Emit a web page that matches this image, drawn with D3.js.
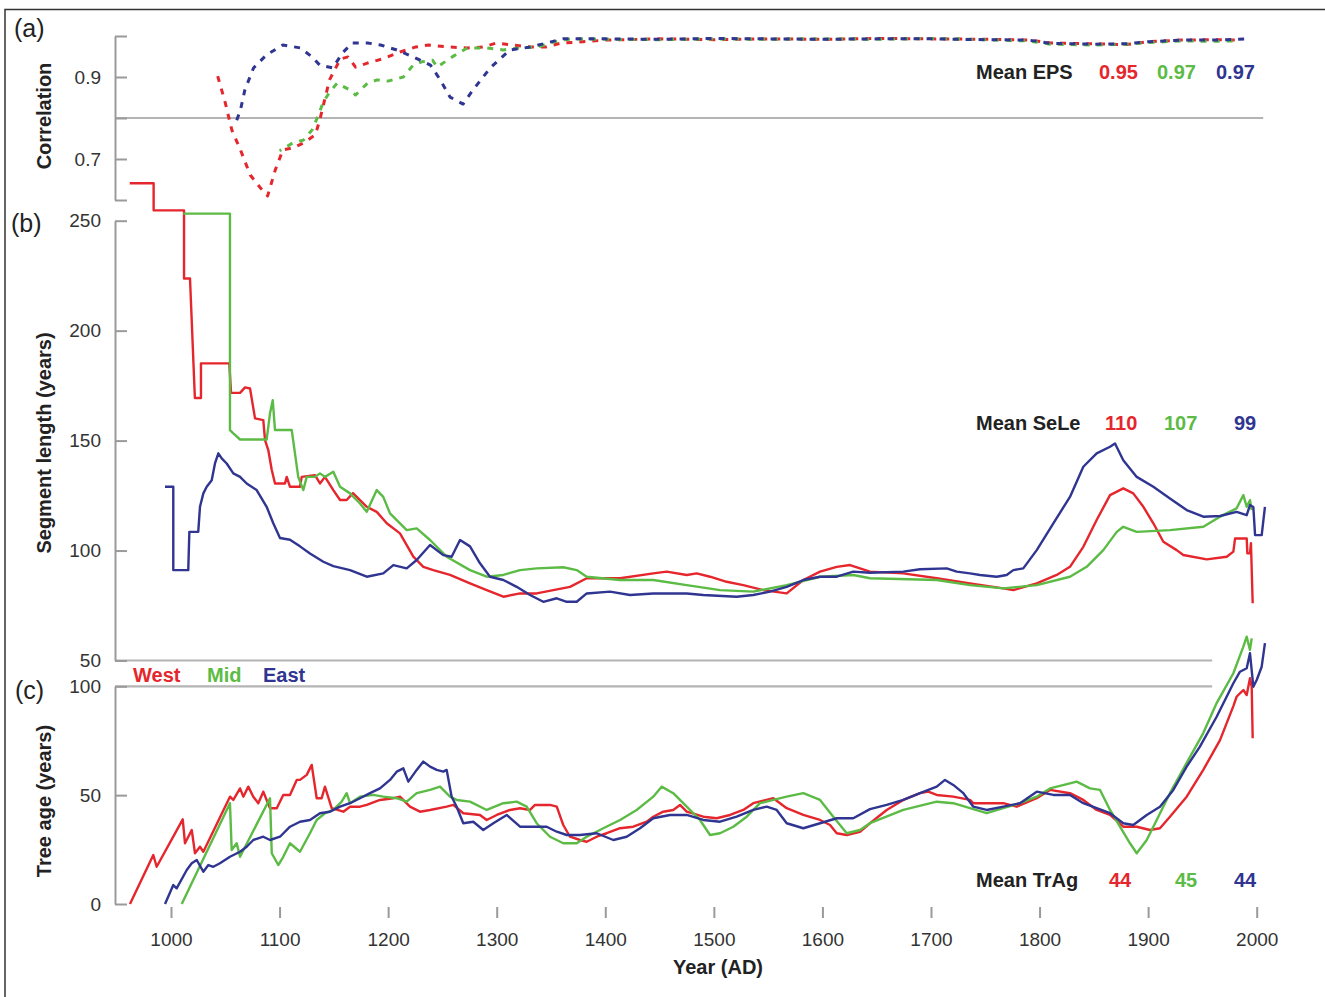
<!DOCTYPE html>
<html>
<head>
<meta charset="utf-8">
<script src="https://cdn.jsdelivr.net/npm/d3@7"></script>
<style>
  body { margin: 0; background: #fff; }
  svg { display: block; font-family: "Liberation Sans", Arial, Helvetica, sans-serif; }
</style>
</head>
<body>
<svg id="chart" width="1325" height="997"></svg>
<script>
// ---- data -------------------------------------------------------------
const regions = ["West", "Mid", "East"];
const yearTicks = d3.range(1000, 2001, 100);
const epsTicks = [0.6, 0.7, 0.8, 0.9, 1.0];
const epsLabelled = [0.7, 0.9];
const segTicks = [50, 100, 150, 200, 250];
const ageTicks = [0, 50, 100];
const epsThreshold = 0.8;
const meanEPS = ["0.95", "0.97", "0.97"];
const meanSeLe = ["110", "107", "99"];
const meanTrAg = ["44", "45", "44"];

// (a) running EPS, [year, EPS]
const epsWest = [[1043,0.902],[1050,0.837],[1056,0.771],[1064,0.722],[1073,0.661],[1084,0.624],[1089,0.61],[1096,0.673],[1103,0.722],[1112,0.727],[1122,0.739],[1133,0.759],[1137,0.795],[1146,0.893],[1156,0.944],[1163,0.949],[1170,0.924],[1181,0.934],[1197,0.946],[1211,0.961],[1225,0.973],[1237,0.978],[1257,0.973],[1273,0.971],[1287,0.973],[1300,0.983],[1315,0.978],[1331,0.973],[1345,0.973],[1360,0.983],[1375,0.985],[1400,0.99],[1450,0.993],[1500,0.991],[1550,0.993],[1600,0.992],[1650,0.994],[1700,0.993],[1750,0.992],[1790,0.99],[1810,0.983],[1850,0.981],[1880,0.979],[1900,0.986],[1930,0.99],[1960,0.991],[1983,0.99]];
const epsMid = [[1100,0.72],[1112,0.739],[1122,0.746],[1130,0.771],[1135,0.802],[1140,0.837],[1146,0.863],[1153,0.885],[1165,0.868],[1170,0.856],[1181,0.885],[1190,0.893],[1200,0.89],[1214,0.9],[1223,0.929],[1231,0.937],[1241,0.941],[1245,0.924],[1259,0.949],[1273,0.971],[1291,0.971],[1306,0.966],[1322,0.971],[1337,0.973],[1352,0.985],[1368,0.993],[1400,0.992],[1450,0.991],[1500,0.993],[1550,0.992],[1600,0.993],[1650,0.992],[1700,0.994],[1750,0.991],[1790,0.988],[1810,0.98],[1850,0.978],[1880,0.98],[1900,0.984],[1930,0.988],[1960,0.987],[1982,0.988]];
const epsEast = [[1059,0.783],[1064,0.82],[1068,0.868],[1076,0.922],[1088,0.954],[1103,0.978],[1119,0.971],[1130,0.949],[1137,0.929],[1149,0.922],[1158,0.959],[1167,0.983],[1181,0.983],[1193,0.978],[1208,0.966],[1223,0.949],[1239,0.929],[1248,0.893],[1257,0.851],[1269,0.834],[1278,0.868],[1294,0.922],[1312,0.966],[1331,0.973],[1361,0.993],[1400,0.993],[1450,0.992],[1500,0.994],[1550,0.993],[1600,0.992],[1650,0.993],[1700,0.993],[1750,0.991],[1790,0.99],[1810,0.982],[1850,0.98],[1880,0.981],[1900,0.986],[1930,0.99],[1960,0.99],[1989,0.993]];

// (b) mean segment length, [year, years]
const segWest = [[962,267],[984,267],[984,254.7],[1012,254.7],[1012,223.7],[1017.5,223.7],[1022,169.4],[1027.6,169.4],[1027.6,185.1],[1053.7,185.1],[1055.3,171.7],[1063.6,171.7],[1068.2,174.2],[1072.8,173.7],[1077.4,160.1],[1085,159.3],[1086.6,150.2],[1089.6,145.7],[1092.8,136.6],[1095.8,130.5],[1105,130.5],[1106.6,133.5],[1109.6,129],[1118.8,129],[1120.4,133.5],[1132.6,134.3],[1137.2,130.5],[1141.8,133.5],[1149.5,127.5],[1155.7,123],[1161.8,123],[1167.6,126.1],[1180.3,119.9],[1189.5,117.6],[1198.7,112.4],[1210.9,107.8],[1223.2,97.2],[1232.4,92.6],[1241.6,91.1],[1257,88.9],[1275.4,85.1],[1290.8,82],[1306.1,79],[1321.5,80.5],[1336.8,80.5],[1352.1,82],[1367.5,83.5],[1382.9,87.4],[1413.6,87.4],[1444.2,89.6],[1456.6,90.4],[1475,88.9],[1484.2,89.6],[1496.5,88.1],[1511.8,85.8],[1527.1,84.3],[1545.5,82],[1567.1,80.5],[1582.4,86.6],[1597.8,90.4],[1613.2,92.6],[1625.4,93.4],[1643.8,90.4],[1674.5,89.6],[1705.3,87.4],[1735.9,85.1],[1766.6,82.8],[1775.8,82],[1797.4,85.1],[1815.8,88.9],[1828,92.6],[1840.3,101.7],[1852.6,113.9],[1864.9,125.2],[1877.1,128.3],[1886.3,126],[1895.6,119.9],[1904.8,112.4],[1914,104],[1926.3,100.2],[1932.4,98],[1954,96],[1972.4,97.2],[1978.5,99.5],[1980.1,105.5],[1990.8,105.5],[1991.4,98.7],[1993.8,98.7],[1994.7,103.3],[1996.3,76]];
const segMid = [[1011.3,253.2],[1054.3,253.2],[1054.3,154.8],[1057.4,153.3],[1063.6,150.5],[1088.1,150.5],[1091.2,162.4],[1093.7,168.4],[1095.8,154.8],[1111.2,154.8],[1117.2,133.5],[1121.9,127.5],[1125,133.5],[1132.6,133.5],[1137.2,135.1],[1141.8,133.5],[1149.5,135.8],[1155.7,129],[1164.9,126],[1174.1,121.4],[1180.3,117.6],[1189.5,127.5],[1195.5,124.4],[1201.7,116.9],[1210.9,112.4],[1217.1,109.3],[1226.3,110.1],[1238.6,104.8],[1253.9,97.2],[1275.4,91.1],[1290.8,88.1],[1306.1,88.9],[1321.5,91.1],[1336.8,91.9],[1361.3,92.4],[1373.7,91.1],[1382.9,88.1],[1413.6,86.6],[1444.2,86.6],[1475,84.3],[1505.7,82],[1536.3,81.3],[1567.1,84.3],[1597.8,88.1],[1628.4,88.9],[1643.8,87.4],[1705.3,86.6],[1735.9,84.3],[1766.6,82.8],[1797.4,84.3],[1828,88.1],[1843.4,92.6],[1858.7,100.2],[1871.1,108.5],[1877.1,110.8],[1889.5,108.5],[1920.1,109.3],[1950.8,110.8],[1966.2,115.4],[1981.5,119.2],[1987.7,125.2],[1990.8,119.9],[1993.8,122.9],[1995.4,118.4]];
const segEast = [[994.5,129],[1002.1,129],[1002.1,91.1],[1015.9,91.1],[1016.9,108.5],[1025.1,108.5],[1026.7,119.9],[1029.8,126],[1032.9,129],[1037.5,132],[1040.5,139.6],[1043.6,144.2],[1046.7,141.9],[1051.3,139.6],[1057.4,135.1],[1063.6,133.5],[1069.7,130.5],[1078.9,127.5],[1088.1,119.9],[1094.2,112.4],[1100.4,105.7],[1109.6,104.9],[1118.8,101.9],[1128,98.7],[1140.3,94.9],[1149.5,92.9],[1164.9,91.1],[1180.3,88.1],[1195.5,89.6],[1204.8,93.4],[1217.1,91.9],[1226.3,95.7],[1238.6,102.5],[1250.8,97.9],[1258.5,97.2],[1266.2,104.8],[1275.4,101.9],[1284.6,94.2],[1293.8,88.1],[1306.1,86.6],[1318.4,83.5],[1330.7,79.8],[1342.9,76.7],[1355.3,78.3],[1364.5,76.7],[1373.7,76.7],[1382.9,80.5],[1404.3,81.3],[1422.8,79.8],[1444.2,80.5],[1475,80.5],[1490.3,79.8],[1521,79],[1536.3,79.8],[1551.7,81.3],[1567.1,83.5],[1582.4,86.6],[1597.8,88.1],[1613.2,88.1],[1628.4,90.4],[1643.8,89.9],[1674.5,90.4],[1689.9,91.5],[1714.5,91.9],[1723.7,90.4],[1735.9,89.6],[1745.2,88.9],[1760.5,88.1],[1769.7,88.9],[1775.8,91.1],[1785,91.9],[1797.4,100.2],[1812.7,112.4],[1828,124.4],[1840.3,138.1],[1852.6,144.2],[1864.9,147.2],[1869.5,148.7],[1877.1,141.1],[1889.5,133.5],[1904.8,129],[1920.1,123.7],[1935.5,118.4],[1950.8,115.4],[1966.2,115.7],[1981.5,117.6],[1990.8,116.1],[1993.8,120.7],[1996.9,119.8],[1998.5,107],[2004.6,107],[2007.6,119.9]];

// (c) mean tree age, [year, years]
const ageWest = [[962.2,0],[983.7,22.5],[986.8,17.1],[1010.8,38.9],[1012.9,27.9],[1019.1,34],[1022.1,23.3],[1026.7,26.3],[1029.8,24],[1054.3,49.3],[1057.4,47.8],[1063.6,53.1],[1066.6,49.3],[1071.2,53.9],[1075.8,49.3],[1080.4,46.3],[1085,51.6],[1088.1,47.8],[1091.2,44],[1097.4,44],[1103.4,50.1],[1109.6,50.1],[1115.8,57],[1118.8,57],[1125,59.3],[1129.6,63.9],[1134.2,48.6],[1138.8,48.6],[1141.8,53.9],[1148,44],[1158.7,42.4],[1164.9,44.7],[1174.1,44.7],[1180.3,45.5],[1192.5,47.8],[1204.8,48.6],[1210.9,49.3],[1220.1,44.7],[1229.3,42.4],[1238.6,43.2],[1253.9,44.7],[1260,45.5],[1269.2,41.7],[1284.6,40.9],[1290.8,38.6],[1300,40.9],[1312.2,43.2],[1321.5,44],[1330.7,43.2],[1335.3,45.5],[1349.1,45.5],[1355.3,44.7],[1361.3,36.3],[1367.5,30.9],[1376.7,29.4],[1382.9,28.6],[1392.1,30.9],[1401.3,32.5],[1413.6,34.8],[1425.8,35.5],[1438.2,37.8],[1444.2,40.1],[1453.4,42.4],[1462.6,43.2],[1468.8,45.5],[1475,42.4],[1490.3,40.1],[1502.6,39.4],[1514.9,40.9],[1527.1,43.2],[1536.3,46.3],[1554.8,48.6],[1567.1,44],[1582.4,40.9],[1597.8,38.6],[1607,36.3],[1613.2,32.5],[1622.4,31.7],[1634.6,33.2],[1643.8,37.1],[1659.2,43.2],[1674.5,47.8],[1689.9,50.9],[1697.5,51.6],[1705.3,50.1],[1720.5,49.3],[1735.9,47.8],[1739,46.3],[1766.6,46.3],[1778.9,44.7],[1797.4,48.6],[1809.6,52.4],[1828,50.9],[1840.3,47.8],[1852.6,43.2],[1864.9,40.9],[1877.1,35.5],[1889.5,35.5],[1901.7,34],[1910.9,34.8],[1920.1,40.1],[1935.5,49.3],[1950.8,61.6],[1966.2,75.3],[1978.5,90.9],[1981.5,95.2],[1984.6,96.8],[1987.7,98.3],[1990.8,96],[1993.8,103.7],[1995.4,99.8],[1996.3,76.1]];
const ageMid = [[1009.9,0],[1054.3,46.3],[1055.9,24.8],[1060.5,27.9],[1063.6,21.7],[1091.2,48.6],[1092.8,23.3],[1098.8,17.9],[1103.4,21.7],[1109.6,27.9],[1118.8,24],[1128,32.5],[1134.2,38.6],[1141.8,41.7],[1149.5,43.2],[1157.2,47],[1161.8,50.9],[1164.9,46.3],[1174.1,49.3],[1186.3,50.1],[1195.5,49.3],[1207.9,48.6],[1217.1,47],[1226.3,50.9],[1238.6,52.4],[1247.8,53.9],[1257,49.3],[1263.1,47.8],[1275.4,47],[1290.8,43.2],[1306.1,46.3],[1318.4,47],[1327.6,44.7],[1336.8,37.1],[1349.1,30.9],[1361.3,27.9],[1373.7,27.9],[1382.9,30.9],[1398.2,34.8],[1413.6,38.6],[1428.9,43.2],[1444.2,49.3],[1451.9,53.9],[1462.6,50.9],[1475,44.7],[1487.2,38.6],[1496.5,31.7],[1505.7,32.5],[1517.9,35.5],[1530.3,40.1],[1542.5,46.3],[1554.8,47.8],[1567.1,49.3],[1582.4,50.9],[1597.8,47.8],[1610,40.1],[1622.4,32.5],[1634.6,34],[1643.8,37.1],[1674.5,43.2],[1705.3,47],[1720.5,46.3],[1735.9,44],[1751.3,41.7],[1766.6,44],[1782,46.3],[1797.4,49.3],[1809.6,53.1],[1828,55.4],[1834.2,56.2],[1846.5,53.1],[1855.7,52.4],[1864.9,43.2],[1874.1,35.5],[1883.3,27.9],[1889.5,23.3],[1898.7,29.4],[1907.9,38.6],[1920.1,50.9],[1935.5,64.8],[1950.8,78.5],[1963.1,92.3],[1978.5,106],[1987.7,118.2],[1990.8,122.8],[1993.8,116.7],[1995.4,122]];
const ageEast = [[994.5,0],[1002.1,8.7],[1005.2,7.2],[1014.5,15.6],[1019.1,18.7],[1023.7,20.2],[1029.8,14.8],[1034.4,17.9],[1039,17.1],[1045.1,18.7],[1054.3,21.7],[1063.6,24],[1069.7,26.3],[1075.8,29.4],[1085,30.9],[1091.2,29.4],[1100.4,30.9],[1109.6,35.5],[1118.8,37.8],[1128,38.6],[1137.2,41.7],[1146.4,42.4],[1155.7,44.7],[1164.9,46.3],[1174.1,48.6],[1183.3,50.9],[1192.5,53.1],[1201.7,57],[1207.9,60.8],[1214,62.3],[1218.6,56.2],[1226.3,61.6],[1232.4,65.4],[1238.6,63.1],[1244.7,61.6],[1250.8,60.8],[1253.9,61.6],[1258.5,49.3],[1263.1,44.7],[1269.2,37.1],[1278.4,37.8],[1287.6,34],[1296.9,37.1],[1309.2,40.9],[1321.5,35.5],[1333.7,35.5],[1346,35.5],[1355.3,33.2],[1364.5,31.7],[1376.7,31.7],[1392.1,32.5],[1407.4,29.4],[1419.7,30.9],[1432,34.8],[1444.2,39.4],[1459.6,40.9],[1475,40.9],[1490.3,38.6],[1505.7,37.8],[1521,40.1],[1536.3,43.2],[1548.7,44.7],[1557.9,43.2],[1567.1,37.1],[1582.4,34.8],[1597.8,37.1],[1613.2,39.4],[1628.4,39.4],[1643.8,43.6],[1659.2,45.5],[1674.5,47.8],[1689.9,50.9],[1705.3,53.9],[1712.9,57],[1720.5,54.7],[1729.8,50.9],[1739,44.7],[1751.3,43.2],[1766.6,44.7],[1782,46.3],[1797.4,51.6],[1812.7,50.1],[1828,50.1],[1840.3,46.3],[1852.6,44],[1864.9,41.7],[1877.1,37.1],[1886.3,36.3],[1898.7,40.9],[1910.9,44.7],[1923.2,52.4],[1935.5,63.1],[1947.7,72.3],[1963.1,86],[1978.5,101.4],[1984.6,106.7],[1990.8,108.3],[1993.8,115.2],[1996.9,99.8],[2000,102.9],[2004.6,109],[2007.6,119.8]];

// ---- drawing ----------------------------------------------------------
const colors = ["#e5262d", "#5cbb45", "#2f3590"];
const axisGrey = "#9a9a9a";
const textDark = "#222";
const font = '"Liberation Sans", Arial, Helvetica, sans-serif';

const svg = d3.select("#chart");
const axisX = 115;

const x = d3.scaleLinear().domain([1000, 2000]).range([171, 1256.7]);
const yA = d3.scaleLinear().domain([0.6, 1.0]).range([200, 36]);
const yB = d3.scaleLinear().domain([50, 250]).range([660.5, 220.7]);
const yC = d3.scaleLinear().domain([0, 100]).range([904, 686.3]);

// outer frame (top and left edges)
svg.append("path")
  .attr("d", "M5,1000V9.5H1330")
  .attr("fill", "none").attr("stroke", "#333").attr("stroke-width", 1.5);

// reference lines
function hLine(yPos, xEndYear) {
  svg.append("line")
    .attr("x1", axisX).attr("x2", x(xEndYear))
    .attr("y1", yPos).attr("y2", yPos)
    .attr("stroke", "#b4b4b4").attr("stroke-width", 2.2);
}
hLine(yA(epsThreshold), 2006);
hLine(yB(50), 1959);
hLine(yC(100), 1959);

// y axes with inward ticks
function yAxis(scale, ticks, fmt) {
  const g = svg.append("g").attr("transform", `translate(${axisX},0)`)
    .call(d3.axisLeft(scale).tickValues(ticks).tickSizeInner(-12).tickSizeOuter(0)
      .tickPadding(14).tickFormat(fmt));
  g.select(".domain").attr("stroke", axisGrey).attr("stroke-width", 2);
  g.selectAll(".tick line").attr("stroke", axisGrey).attr("stroke-width", 2);
  g.selectAll(".tick text").attr("fill", "#333").style("font-size", "19px").style("font-family", font);
  return g;
}
yAxis(yA, epsTicks, d => epsLabelled.some(v => Math.abs(v - d) < 1e-9) ? d3.format(".1f")(d) : "");
yAxis(yB, segTicks, d3.format("d"));
yAxis(yC, ageTicks, d3.format("d"));

// x axis: floating ticks below panel (c)
const gx = svg.append("g").attr("transform", "translate(0,907)")
  .call(d3.axisBottom(x).tickValues(yearTicks).tickSize(11).tickPadding(15).tickFormat(d3.format("d")));
gx.select(".domain").remove();
gx.selectAll(".tick line").attr("stroke", axisGrey).attr("stroke-width", 2);
gx.selectAll(".tick text").attr("fill", "#333").style("font-size", "19px").style("font-family", font);

// series lines
function drawSeries(sets, yScale, dashed) {
  const line = d3.line().x(d => x(d[0])).y(d => yScale(d[1]));
  sets.forEach((data, i) => {
    const p = svg.append("path").datum(data)
      .attr("d", line)
      .attr("fill", "none")
      .attr("stroke", colors[i])
      .attr("stroke-linejoin", "round");
    if (dashed) {
      p.attr("stroke-width", 3).attr("stroke-dasharray", "6,7").attr("stroke-dashoffset", i * 4);
    } else {
      p.attr("stroke-width", 2.4);
    }
  });
}
drawSeries([epsWest, epsMid, epsEast], yA, true);
drawSeries([segWest, segMid, segEast], yB, false);
drawSeries([ageWest, ageMid, ageEast], yC, false);

// panel letters
[["(a)", 14, 37], ["(b)", 11, 232], ["(c)", 15, 699]].forEach(([t, tx, ty]) => {
  svg.append("text").attr("x", tx).attr("y", ty).text(t)
    .attr("fill", textDark).style("font-size", "25px").style("font-family", font);
});

// axis titles
[["Correlation", 116], ["Segment length (years)", 443], ["Tree age (years)", 801]].forEach(([t, cy]) => {
  svg.append("text")
    .attr("transform", `translate(44,${cy}) rotate(-90)`)
    .attr("text-anchor", "middle").attr("dominant-baseline", "central")
    .text(t).attr("fill", textDark)
    .style("font-size", "20px").style("font-weight", "bold").style("font-family", font);
});
svg.append("text").attr("x", 718).attr("y", 974).attr("text-anchor", "middle")
  .text("Year (AD)").attr("fill", textDark)
  .style("font-size", "20px").style("font-weight", "bold").style("font-family", font);

// mean statistics per region
function meanRow(label, values, baseY, valueX) {
  svg.append("text").attr("x", 976).attr("y", baseY).text(label).attr("fill", textDark)
    .style("font-size", "20px").style("font-weight", "bold").style("font-family", font);
  values.forEach((v, i) => {
    svg.append("text").attr("x", valueX[i]).attr("y", baseY).text(v).attr("fill", colors[i])
      .style("font-size", "20px").style("font-weight", "bold").style("font-family", font);
  });
}
meanRow("Mean EPS", meanEPS, 79, [1099, 1157, 1216]);
meanRow("Mean SeLe", meanSeLe, 430, [1105, 1164, 1234]);
meanRow("Mean TrAg", meanTrAg, 887, [1109, 1175, 1234]);

// region legend
[133, 207, 263].forEach((lx, i) => {
  svg.append("text").attr("x", lx).attr("y", 682).text(regions[i]).attr("fill", colors[i])
    .style("font-size", "20px").style("font-weight", "bold").style("font-family", font);
});
</script>
</body>
</html>
